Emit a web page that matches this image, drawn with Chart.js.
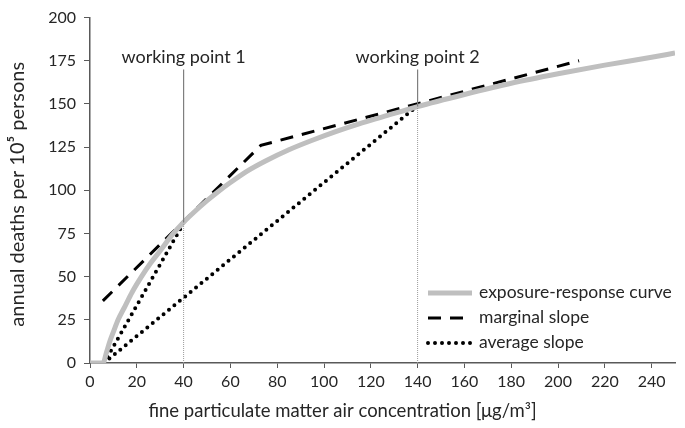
<!DOCTYPE html>
<html>
<head>
<meta charset="utf-8">
<script src="https://cdn.jsdelivr.net/npm/chart.js@4.4.1/dist/chart.umd.min.js"></script>
<style>
  html, body { margin: 0; padding: 0; background: #fff; }
  #wrap { width: 685px; height: 428px; }
</style>
</head>
<body>
<div id="wrap"><canvas id="chart" width="685" height="428"></canvas></div>
<script>
// exposure-response curve
const curveX = [0, 5.6, 7, 8.6, 10, 12, 15, 18, 22, 26, 30, 35, 40, 45, 50, 55, 60, 67, 75, 85, 95, 105, 115, 125, 140, 160, 180, 200, 220, 240, 250];
const curveY = [0, 0, 6, 13, 18, 25, 33, 41, 50, 58, 65, 74, 81.5, 88, 94, 99.5, 104.5, 111, 117, 123.5, 129, 134, 138.5, 142.5, 148.5, 155.5, 162, 167.5, 172.5, 177, 179.5];

// marginal slope (tangents at the two working points)
const marginalX = [5.5, 73, 209];
const marginalY = [36, 126, 175];

// average slope lines, from the curve's start to each working point
const avg1X = [6, 40];
const avg1Y = [0, 81];
const avg2X = [6, 140];
const avg2Y = [0, 149];

// working points
const wpX = [40, 140];
const wpY = [81.5, 148.5];
const wpTop = [170, 170];
const wpLabelY = 177;
const wpLabels = ['working point 1', 'working point 2'];

const xTicks = [0, 20, 40, 60, 80, 100, 120, 140, 160, 180, 200, 220, 240];
const yTicks = [0, 25, 50, 75, 100, 125, 150, 175, 200];

const legendLabels = ['exposure-response curve', 'marginal slope', 'average slope'];
const xTitle = 'fine particulate matter air concentration [μg/m³]';
const yTitle = 'annual deaths per 10⁵ persons';

const FONT = "Lato, sans-serif";
const TEXT = '#262626';
const AXIS = '#595959';

const pts = (xs, ys) => xs.map((x, i) => ({ x, y: ys[i] }));

const curveStyle = { borderColor: '#bfbfbf', borderWidth: 5, borderDash: [], borderCapStyle: 'butt' };
const marginalStyle = { borderColor: '#000', borderWidth: 3, borderDash: [13, 9], borderCapStyle: 'butt' };
const averageStyle = { borderColor: '#000', borderWidth: 4, borderDash: [0, 7], borderCapStyle: 'round' };

const datasets = [];
// vertical lines for the working points
wpX.forEach((x, i) => {
    datasets.push({
        data: [{ x, y: 0 }, { x, y: wpY[i] }],
        borderColor: '#9a9a9a', borderWidth: 1, borderDash: [1, 1]
    });
    datasets.push({
        data: [{ x, y: wpY[i] }, { x, y: wpTop[i] }],
        borderColor: '#7f7f7f', borderWidth: 1.2
    });
});
datasets.push(Object.assign({ data: pts(curveX, curveY), cubicInterpolationMode: 'monotone' }, curveStyle));
datasets.push(Object.assign({ data: pts(marginalX, marginalY) }, marginalStyle));
datasets.push(Object.assign({ data: pts(avg1X, avg1Y) }, averageStyle));
datasets.push(Object.assign({ data: pts(avg2X, avg2Y) }, averageStyle));

const annotations = {
    id: 'annotations',
    afterDatasetsDraw(chart) {
        const { ctx, scales, width } = chart;
        ctx.save();
        ctx.fillStyle = TEXT;
        ctx.textBaseline = 'middle';

        // axis titles (centred on the whole figure, like the original)
        ctx.textAlign = 'center';
        ctx.font = '18.5px ' + FONT;
        ctx.fillText(xTitle, width / 2, 411);
        ctx.save();
        ctx.translate(18, (scales.y.top + scales.y.bottom) / 2 + 4);
        ctx.rotate(-Math.PI / 2);
        ctx.font = '20px ' + FONT;
        ctx.fillText(yTitle, 0, 0);
        ctx.restore();

        ctx.font = '18px ' + FONT;
        wpX.forEach((x, i) => {
            ctx.fillText(wpLabels[i], scales.x.getPixelForValue(x), scales.y.getPixelForValue(wpLabelY));
        });

        // legend inside the plot, lower right
        const styles = [curveStyle, marginalStyle, averageStyle];
        const x0 = 428, x1 = 472;
        const rows = [293, 318, 343];
        ctx.font = '17.5px ' + FONT;
        styles.forEach((s, i) => {
            const y = rows[i];
            ctx.beginPath();
            ctx.strokeStyle = s.borderColor;
            ctx.lineWidth = s.borderWidth;
            ctx.setLineDash(s.borderDash);
            ctx.lineCap = s.borderCapStyle;
            ctx.moveTo(x0, y);
            ctx.lineTo(x1, y);
            ctx.stroke();
            ctx.setLineDash([]);
            ctx.textAlign = 'left';
            ctx.fillText(legendLabels[i], 479, y - 1);
        });
        ctx.restore();
    }
};

new Chart(document.getElementById('chart'), {
    type: 'line',
    data: { datasets },
    options: {
        responsive: false,
        animation: false,
        events: [],
        layout: { padding: { left: 6, right: 10, top: 10, bottom: 4 } },
        elements: { point: { radius: 0 }, line: { fill: false } },
        plugins: { legend: { display: false }, tooltip: { enabled: false } },
        scales: {
            x: {
                type: 'linear', min: 0, max: 250,
                afterBuildTicks: s => { s.ticks = xTicks.map(v => ({ value: v })); },
                afterFit: s => { s.height = 61; },
                grid: { drawOnChartArea: false, drawTicks: true, tickLength: 5, color: AXIS },
                border: { display: true, color: AXIS, width: 1.5 },
                ticks: { color: TEXT, font: { family: FONT, size: 16 }, padding: 4, maxRotation: 0 }
            },
            y: {
                type: 'linear', min: 0, max: 200,
                afterBuildTicks: s => { s.ticks = yTicks.map(v => ({ value: v })); },
                afterFit: s => { s.width = 84; },
                grid: { drawOnChartArea: false, drawTicks: true, tickLength: 6, color: AXIS },
                border: { display: true, color: AXIS, width: 1.5 },
                ticks: { color: TEXT, font: { family: FONT, size: 16 }, padding: 8 }
            }
        }
    },
    plugins: [annotations]
});
</script>
</body>
</html>
